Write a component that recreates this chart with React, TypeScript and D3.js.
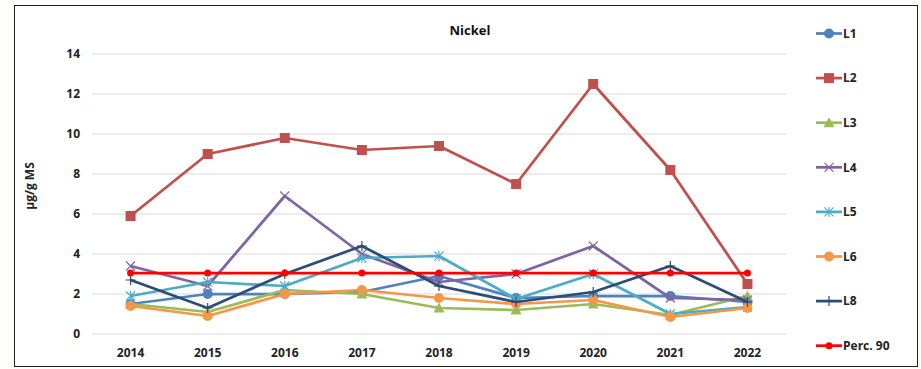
import React from "react";
import * as d3 from "d3";

const years = ["2014", "2015", "2016", "2017", "2018", "2019", "2020", "2021", "2022"];
const l1 = [1.5, 2.0, 2.0, 2.1, 2.9, 1.8, 1.9, 1.9, 1.6];
const l2 = [5.9, 9.0, 9.8, 9.2, 9.4, 7.5, 12.5, 8.2, 2.5];
const l3 = [1.5, 1.1, 2.2, 2.0, 1.3, 1.2, 1.5, 0.95, 1.9];
const l4 = [3.4, 2.4, 6.9, 4.0, 2.6, 3.0, 4.4, 1.8, 1.7];
const l5 = [1.9, 2.6, 2.4, 3.8, 3.9, 1.75, 3.0, 1.0, 1.35];
const l6 = [1.4, 0.9, 2.0, 2.2, 1.8, 1.5, 1.7, 0.85, 1.3];
const l8 = [2.7, 1.3, 3.0, 4.4, 2.4, 1.6, 2.1, 3.4, 1.6];
const perc90 = [3.05, 3.05, 3.05, 3.05, 3.05, 3.05, 3.05, 3.05, 3.05];
const yTicks = [0, 2, 4, 6, 8, 10, 12, 14];

type Marker = "circle" | "square" | "triangle" | "x" | "star" | "plus" | "dot";
interface Series { name: string; values: number[]; color: string; marker: Marker; }

const series: Series[] = [
  { name: "L1", values: l1, color: "#4F81BD", marker: "circle" },
  { name: "L2", values: l2, color: "#C0504D", marker: "square" },
  { name: "L3", values: l3, color: "#9BBB59", marker: "triangle" },
  { name: "L4", values: l4, color: "#8064A2", marker: "x" },
  { name: "L5", values: l5, color: "#4BACC6", marker: "star" },
  { name: "L6", values: l6, color: "#F79646", marker: "circle" },
  { name: "L8", values: l8, color: "#2C4D75", marker: "plus" },
  { name: "Perc. 90", values: perc90, color: "#FF0000", marker: "dot" },
];

const FONT = "'Open Sans', 'Liberation Sans', sans-serif";

function MarkerShape({ kind, x, y, color }: { kind: Marker; x: number; y: number; color: string }) {
  switch (kind) {
    case "circle":
      return <circle cx={x} cy={y} r={5} fill={color} />;
    case "dot":
      return <circle cx={x} cy={y} r={3.5} fill={color} />;
    case "square":
      return <rect x={x - 5} y={y - 5} width={10} height={10} fill={color} />;
    case "triangle":
      return <path d={`M${x},${y - 5.5}L${x + 5.5},${y + 4.5}L${x - 5.5},${y + 4.5}Z`} fill={color} />;
    case "x":
      return (
        <path d={`M${x - 4.5},${y - 4.5}L${x + 4.5},${y + 4.5}M${x - 4.5},${y + 4.5}L${x + 4.5},${y - 4.5}`} stroke={color} strokeWidth={1.1} />
      );
    case "star":
      return (
        <path
          d={`M${x - 4.5},${y - 4.5}L${x + 4.5},${y + 4.5}M${x - 4.5},${y + 4.5}L${x + 4.5},${y - 4.5}M${x},${y - 5}L${x},${y + 5}`}
          stroke={color}
          strokeWidth={1.1}
        />
      );
    case "plus":
      return <path d={`M${x - 5},${y}L${x + 5},${y}M${x},${y - 5}L${x},${y + 5}`} stroke={color} strokeWidth={1.2} />;
  }
}

export default function App() {
  const width = 921;
  const height = 369;
  const plotLeft = 92;
  const plotRight = 786;
  const x = d3.scaleBand<string>().domain(years).range([plotLeft, plotRight]);
  const cx = (yr: string) => (x(yr) ?? 0) + x.bandwidth() / 2;
  const y = d3.scaleLinear().domain([0, 14]).range([334, 54]);
  const line = d3
    .line<number>()
    .x((_, i) => cx(years[i]))
    .y((v) => y(v));

  const legendX = 816;
  const legendY0 = 33.5;
  const legendStep = 44.6;

  return (
    <svg
      width={width}
      height={height}
      style={{ position: "absolute", left: 0, top: 0, background: "#FDFDFB" }}
      fontFamily={FONT}
    >
      <rect x={14.5} y={5.5} width={903} height={361} fill="#FFFFFF" stroke="#222" strokeWidth={1} />

      {yTicks.map((t) => (
        <g key={t}>
          <line x1={plotLeft} x2={plotRight} y1={y(t)} y2={y(t)} stroke="#D9D9D9" strokeWidth={1} />
          <text x={80} y={y(t)} dy="0.35em" textAnchor="end" fontSize={12} fontWeight="bold" fill="#222">
            {t}
          </text>
        </g>
      ))}

      {years.map((yr) => (
        <text key={yr} x={cx(yr)} y={353} dy="0.35em" textAnchor="middle" fontSize={12} fontWeight="bold" fill="#222">
          {yr}
        </text>
      ))}

      <text x={470} y={30} dy="0.35em" textAnchor="middle" fontSize={13} fontWeight="bold" fill="#111">
        Nickel
      </text>

      <text
        transform={`translate(30,186) rotate(-90)`}
        textAnchor="middle"
        dy="0.35em"
        fontSize={12}
        fontWeight="bold"
        fill="#222"
      >
        µg/g MS
      </text>

      {series.map((s) => (
        <g key={s.name}>
          <path d={line(s.values) ?? ""} fill="none" stroke={s.color} strokeWidth={2.75} strokeLinejoin="round" />
          {s.values.map((v, i) => (
            <MarkerShape key={i} kind={s.marker} x={cx(years[i])} y={y(v)} color={s.color} />
          ))}
        </g>
      ))}

      {series.map((s, i) => {
        const ly = legendY0 + i * legendStep;
        return (
          <g key={s.name}>
            <line x1={legendX} x2={legendX + 26} y1={ly} y2={ly} stroke={s.color} strokeWidth={2.75} />
            <MarkerShape kind={s.marker} x={legendX + 13} y={ly} color={s.color} />
            <text x={legendX + 27} y={ly} dy="0.35em" fontSize={12} fontWeight="bold" fill="#222">
              {s.name}
            </text>
          </g>
        );
      })}
    </svg>
  );
}
